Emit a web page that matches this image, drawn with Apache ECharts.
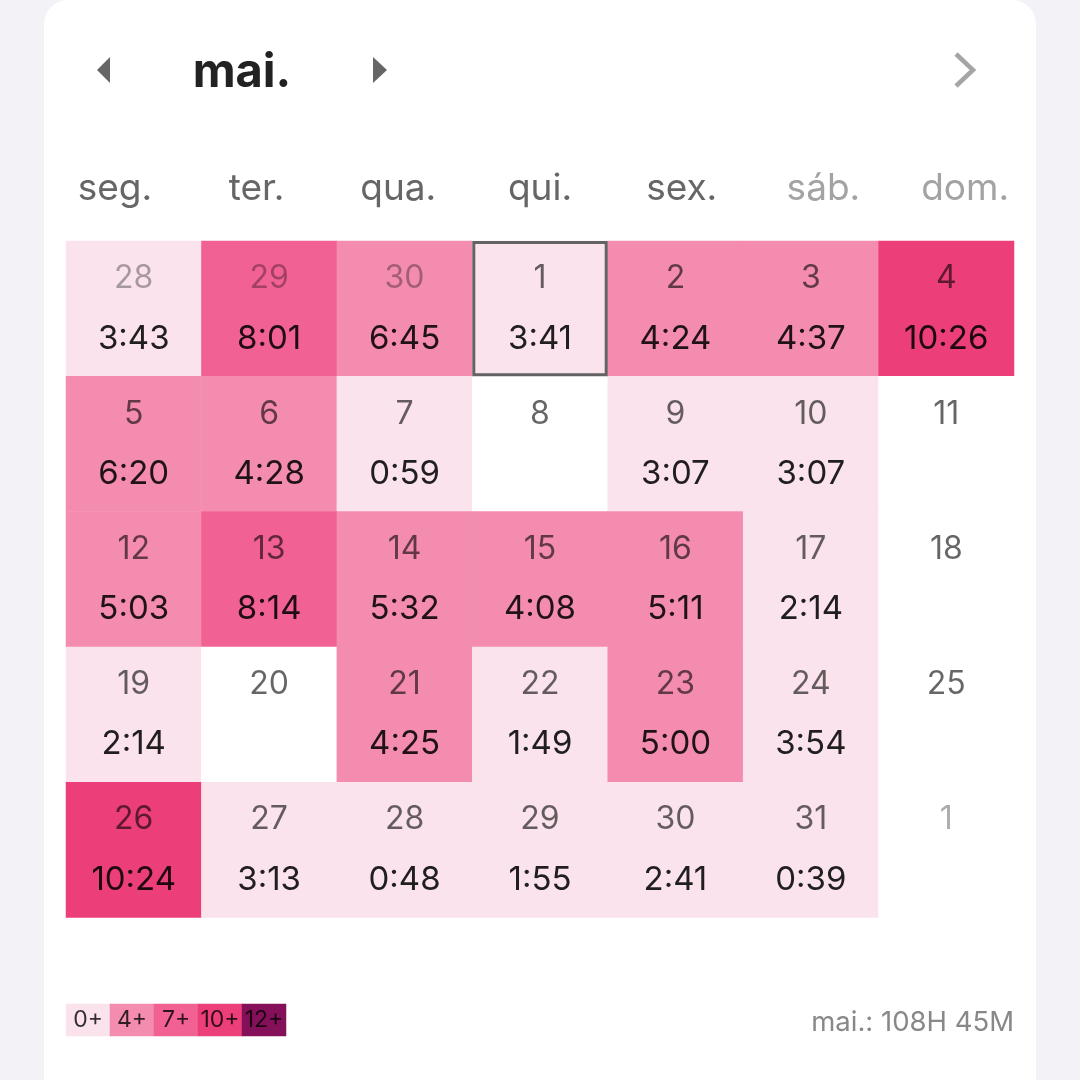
<!DOCTYPE html>
<html>
<head>
    <meta charset="utf-8">
    <title>mai.</title>
    <script src="https://cdn.jsdelivr.net/npm/echarts@6/dist/echarts.min.js"></script>
    <style>
        *{
            margin: 0;
            padding: 0;
        }
        html,body{
            width: 100%;
            height: 100%;
            overflow: hidden;
        }
        #main{
            width: 1080px;
            height: 1080px;
        }
    </style>
</head>
<body>
<div id="main"></div>
<script>
    const monthName = 'mai.';
    const monthTotal = 'mai.: 108H 45M';
    const weekdays = ['seg.', 'ter.', 'qua.', 'qui.', 'sex.', 'sáb.', 'dom.'];
    const columns = ['c1', 'c2', 'c3', 'c4', 'c5', 'c6', 'c7'];
    const weeks = ['w1', 'w2', 'w3', 'w4', 'w5'];
    const dayNumbers = [
        [28, 29, 30, 1, 2, 3, 4],
        [5, 6, 7, 8, 9, 10, 11],
        [12, 13, 14, 15, 16, 17, 18],
        [19, 20, 21, 22, 23, 24, 25],
        [26, 27, 28, 29, 30, 31, 1]
    ];
    const durations = [
        ['3:43', '8:01', '6:45', '3:41', '4:24', '4:37', '10:26'],
        ['6:20', '4:28', '0:59', '', '3:07', '3:07', ''],
        ['5:03', '8:14', '5:32', '4:08', '5:11', '2:14', ''],
        ['2:14', '', '4:25', '1:49', '5:00', '3:54', ''],
        ['10:24', '3:13', '0:48', '1:55', '2:41', '0:39', '']
    ];
    const legendLabels = ['0+', '4+', '7+', '10+', '12+'];
    const legendHours = [0, 4, 7, 10, 12];
    const legendColors = ['#fae3ec', '#f48cb0', '#f26194', '#ec3f7a', '#85105a'];
    const todayCell = [3, 0];

    function toMinutes(text) {
        if (!text) return -1; // no reading that day
        let parts = text.split(':');
        return Number(parts[0]) * 60 + Number(parts[1]);
    }

    // the month's first and last rows also show days of the neighbouring months
    function isOtherMonth(col, row) {
        return (row === 0 && dayNumbers[row][col] > 7) || (row === 4 && dayNumbers[row][col] < 7);
    }

    let cells = [];
    dayNumbers.forEach((week, row) => {
        week.forEach((day, col) => {
            cells.push({value: [col, row, toMinutes(durations[row][col]), day, durations[row][col]]});
        });
    });

    let pieces = [{lt: 0, color: '#ffffff'}];
    legendHours.forEach((h, i) => {
        let piece = {gte: h * 60, color: legendColors[i]};
        if (i < legendHours.length - 1) piece.lt = legendHours[i + 1] * 60;
        pieces.push(piece);
    });

    let myChart = echarts.init(document.getElementById('main'));
    let font = 'Inter';
    let option = {
        animation: false,
        backgroundColor: '#f2f2f7',
        textStyle: {fontFamily: font},
        grid: [
            {left: 66, top: 241, width: 948, height: 676.5},
            {left: 66, top: 1004, width: 220, height: 32},
            // weekday header spans the whole card, wider than the cells
            {left: 44, top: 241, width: 992, height: 676.5}
        ],
        xAxis: [
            {type: 'category', gridIndex: 0, data: columns, show: false},
            {type: 'category', gridIndex: 1, data: legendLabels, show: false},
            {
                type: 'category',
                gridIndex: 2,
                data: weekdays,
                position: 'top',
                axisLine: {show: false},
                axisTick: {show: false},
                splitLine: {show: false},
                axisLabel: {
                    interval: 0,
                    margin: 34,
                    fontFamily: font,
                    fontSize: 37,
                    color: (value) => (value === 'sáb.' || value === 'dom.') ? '#a3a3a3' : '#666666'
                }
            }
        ],
        yAxis: [
            {type: 'category', gridIndex: 0, data: weeks, inverse: true, show: false},
            {type: 'category', gridIndex: 1, data: ['legend'], show: false},
            {type: 'category', gridIndex: 2, data: weeks, show: false}
        ],
        visualMap: {
            show: false,
            type: 'piecewise',
            dimension: 2,
            seriesIndex: [0, 2],
            pieces: pieces
        },
        series: [
            {
                type: 'heatmap',
                xAxisIndex: 0,
                yAxisIndex: 0,
                data: cells,
                encode: {x: 0, y: 1},
                itemStyle: {borderWidth: 0},
                emphasis: {disabled: true},
                label: {
                    show: true,
                    offset: [0, 0],
                    formatter: (p) => {
                        let dayStyle = isOtherMonth(p.value[0], p.value[1]) ? 'other' : 'day';
                        return '{' + dayStyle + '|' + p.value[3] + '}\n{time|' + (p.value[4] || ' ') + '}';
                    },
                    rich: {
                        day: {fontFamily: font, fontSize: 32, lineHeight: 60, color: 'rgba(0,0,0,0.6)'},
                        other: {fontFamily: font, fontSize: 32, lineHeight: 60, color: 'rgba(0,0,0,0.33)'},
                        time: {fontFamily: font, fontSize: 33, lineHeight: 60, color: 'rgba(0,0,0,0.87)'}
                    }
                }
            },
            {
                // outline of the current day, kept inside its cell
                type: 'custom',
                xAxisIndex: 0,
                yAxisIndex: 0,
                data: [todayCell],
                encode: {x: 0, y: 1},
                z: 5,
                silent: true,
                renderItem: (params, api) => {
                    let center = api.coord([api.value(0), api.value(1)]);
                    let size = api.size([1, 1]);
                    return {
                        type: 'rect',
                        shape: {
                            x: center[0] - size[0] / 2 + 1.5,
                            y: center[1] - size[1] / 2 + 1.5,
                            width: size[0] - 3,
                            height: size[1] - 3
                        },
                        style: {fill: 'none', stroke: '#636363', lineWidth: 3}
                    };
                }
            },
            {
                type: 'heatmap',
                xAxisIndex: 1,
                yAxisIndex: 1,
                data: legendHours.map((h, i) => [i, 0, h * 60]),
                emphasis: {disabled: true},
                label: {
                    show: true,
                    formatter: (p) => legendLabels[p.value[0]],
                    fontFamily: font,
                    fontSize: 23,
                    color: 'rgba(0,0,0,0.8)'
                }
            }
        ],
        graphic: [
            {type: 'rect', z: -10, shape: {x: 44, y: 0, width: 992, height: 1080, r: [24, 24, 0, 0]}, style: {fill: '#ffffff'}},
            {type: 'polygon', shape: {points: [[97, 70], [110, 57], [110, 83]]}, style: {fill: '#666666'}},
            {type: 'polygon', shape: {points: [[373, 57], [387, 70], [373, 83]]}, style: {fill: '#666666'}},
            {type: 'polyline', shape: {points: [[956, 54], [973, 70], [956, 86]]}, style: {fill: 'none', stroke: '#a5a5a5', lineWidth: 4.5}},
            {type: 'text', x: 242, y: 73, style: {text: monthName, font: 'bold 47px Inter', fill: '#222222', textAlign: 'center', textVerticalAlign: 'middle'}},
            {type: 'text', x: 1014, y: 1023, style: {text: monthTotal, font: '27.5px Inter', fill: '#888888', textAlign: 'right', textVerticalAlign: 'middle'}}
        ]
    };
    myChart.setOption(option);
</script>
</body>
</html>
